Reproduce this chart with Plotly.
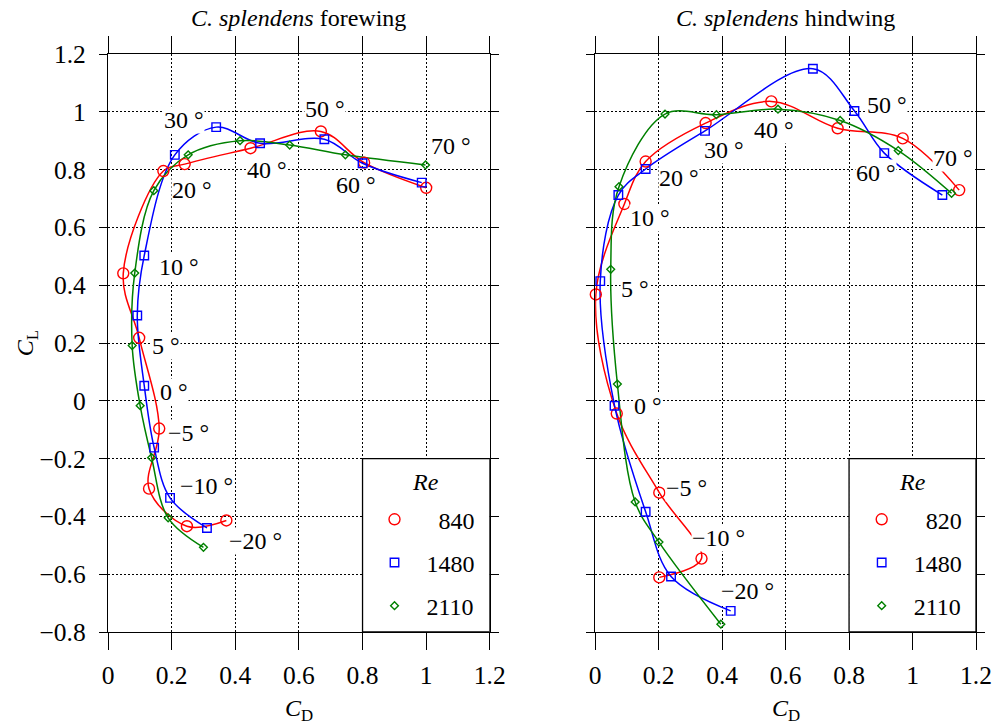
import plotly.graph_objects as go

# ---------------- data ----------------
angles = [-20, -10, -5, 0, 5, 10, 20, 30, 40, 50, 60, 70]

fore_re = ["840", "1480", "2110"]
hind_re = ["820", "1480", "2110"]

fore_840_cd = [0.372, 0.248, 0.129, 0.161, 0.098, 0.048, 0.174, 0.241, 0.448, 0.669, 0.805, 1.000]
fore_840_cl = [-0.414, -0.434, -0.304, -0.096, 0.218, 0.441, 0.795, 0.819, 0.874, 0.932, 0.824, 0.737]
fore_1480_cd = [0.311, 0.195, 0.145, 0.114, 0.092, 0.114, 0.210, 0.340, 0.478, 0.680, 0.800, 0.986]
fore_1480_cl = [-0.440, -0.336, -0.162, 0.052, 0.295, 0.503, 0.851, 0.947, 0.891, 0.905, 0.822, 0.755]
fore_2110_cd = [0.300, 0.189, 0.137, 0.101, 0.076, 0.084, 0.144, 0.252, 0.415, 0.571, 0.746, 0.998]
fore_2110_cl = [-0.507, -0.405, -0.197, -0.017, 0.191, 0.442, 0.727, 0.851, 0.900, 0.885, 0.851, 0.816]

hind_820_cd = [0.202, 0.335, 0.202, 0.068, 0.002, 0.092, 0.159, 0.348, 0.555, 0.764, 0.969, 1.147]
hind_820_cl = [-0.611, -0.546, -0.318, -0.044, 0.368, 0.681, 0.828, 0.961, 1.036, 0.943, 0.908, 0.729]
hind_1480_cd = [0.427, 0.239, 0.159, 0.061, 0.016, 0.073, 0.159, 0.346, 0.686, 0.817, 0.911, 1.094]
hind_1480_cl = [-0.727, -0.608, -0.384, -0.017, 0.414, 0.712, 0.802, 0.934, 1.149, 1.003, 0.857, 0.712]
hind_2110_cd = [0.396, 0.201, 0.126, 0.070, 0.049, 0.075, 0.220, 0.382, 0.576, 0.772, 0.955, 1.123]
hind_2110_cl = [-0.773, -0.489, -0.350, 0.058, 0.455, 0.741, 0.992, 0.990, 1.009, 0.970, 0.866, 0.718]

x_ticks = [0, 0.2, 0.4, 0.6, 0.8, 1.0, 1.2]
x_ticklabels = ["0", "0.2", "0.4", "0.6", "0.8", "1", "1.2"]
y_ticks = [-0.8, -0.6, -0.4, -0.2, 0, 0.2, 0.4, 0.6, 0.8, 1.0, 1.2]
y_ticklabels = ["\u22120.8", "\u22120.6", "\u22120.4", "\u22120.2", "0", "0.2", "0.4",
                "0.6", "0.8", "1", "1.2"]

# angle-label placement (layout, CD/CL coordinates for each angle)
fore_label_x = [0.464, 0.310, 0.254, 0.207, 0.183, 0.222, 0.265, 0.240, 0.500, 0.683, 0.779, 1.079]
fore_label_y = [-0.486, -0.295, -0.110, 0.031, 0.191, 0.463, 0.729, 0.972, 0.799, 1.009, 0.747, 0.880]
hind_label_x = [0.479, 0.390, 0.289, 0.167, 0.126, 0.172, 0.264, 0.407, 0.564, 0.918, 0.886, 1.128]
hind_label_y = [-0.657, -0.475, -0.301, -0.017, 0.388, 0.631, 0.770, 0.868, 0.9375, 1.024, 0.787, 0.839]

# ---------------- style ----------------
FONT = "Liberation Serif"
FS = 24
TFS = 25.5
W, H = 1004, 724
ML, MR, MT, MB = 108, 25.3, 54.3, 92.3
PW = W - ML - MR
PH = H - MT - MB
left_dom = [0, (491 - 108) / PW]
right_dom = [(596.7 - 108) / PW, 1]

colors = ["rgb(255,0,0)", "rgb(0,0,255)", "rgb(0,128,0)"]
symbols = ["circle-open", "square-open", "diamond-open"]
msizes = [11, 8.5, 6]


def py2paper(py):
    return (MT + PH - py) / PH


fig = go.Figure()

panels = [
    ("x", "y", "legend", fore_re,
     [(fore_840_cd, fore_840_cl), (fore_1480_cd, fore_1480_cl), (fore_2110_cd, fore_2110_cl)]),
    ("x2", "y2", "legend2", hind_re,
     [(hind_820_cd, hind_820_cl), (hind_1480_cd, hind_1480_cl), (hind_2110_cd, hind_2110_cl)]),
]

for xa, ya, leg, res, series in panels:
    for i, (cd, cl) in enumerate(series):
        fig.add_trace(go.Scatter(
            x=cd, y=cl, xaxis=xa, yaxis=ya, mode="lines",
            line=dict(color=colors[i], width=1.5, shape="spline", smoothing=1.0),
            showlegend=False, hoverinfo="skip"))
    for i, (cd, cl) in enumerate(series):
        name = res[i] if len(res[i]) == 4 else "\u2007" + res[i]
        fig.add_trace(go.Scatter(
            x=cd, y=cl, xaxis=xa, yaxis=ya, mode="markers",
            marker=dict(symbol=symbols[i], size=msizes[i], color=colors[i],
                        line=dict(width=1.4, color=colors[i])),
            cliponaxis=False, name=name, legend=leg,
            legendgroup=f"{leg}_{i}", showlegend=True))

axis_common = dict(
    ticks="outside", tickcolor="black", tickwidth=1.3,
    showline=True, linecolor="black", linewidth=1.3, mirror="ticks",
    showgrid=True, gridcolor="black", gridwidth=1, griddash="2px,2px",
    zeroline=False, tickfont=dict(family=FONT, size=TFS, color="black"),
)

fig.update_layout(
    width=W, height=H,
    margin=dict(l=ML, r=MR, t=MT, b=MB),
    paper_bgcolor="white", plot_bgcolor="white",
    font=dict(family=FONT, size=FS, color="black"),
    xaxis=dict(domain=left_dom, range=[0, 1.2], tickvals=x_ticks, ticktext=x_ticklabels,
               ticklen=17, anchor="y", ticklabelstandoff=3, **axis_common),
    yaxis=dict(domain=[0, 1], range=[-0.8, 1.2], tickvals=y_ticks, ticktext=y_ticklabels,
               ticklen=8, anchor="x", ticklabelstandoff=8, **axis_common),
    xaxis2=dict(domain=right_dom, range=[0, 1.2], tickvals=x_ticks, ticktext=x_ticklabels,
                ticklen=17, anchor="y2", ticklabelstandoff=3, **axis_common),
    yaxis2=dict(domain=[0, 1], range=[-0.8, 1.2], tickvals=y_ticks, ticktext=y_ticklabels,
                ticklen=8, anchor="x2", showticklabels=False, **axis_common),
    showlegend=True,
)

# legend boxes (white panels with black frame, between grid and traces)
for xa, ya in [("x", "y"), ("x2", "y2")]:
    fig.add_shape(type="rect", xref=xa, yref=ya, x0=0.8, x1=1.2, y0=-0.8, y1=-0.2,
                  fillcolor="white", line=dict(color="black", width=1.3), layer="between")

leg_common = dict(
    xanchor="left", yanchor="top", bgcolor="rgba(0,0,0,0)", borderwidth=0,
    font=dict(family=FONT, size=FS, color="black"),
    itemwidth=54, tracegroupgap=9, traceorder="grouped",
)
fig.update_layout(
    legend=dict(x=(363.3 - 108) / PW, y=py2paper(497), **leg_common),
    legend2=dict(x=(852 - 108) / PW, y=py2paper(497), **leg_common),
)

# "Re" headings of the legends
for dom_x in [(362 + 491) / 2, (850.7 + 978.7) / 2]:
    fig.add_annotation(x=(dom_x - 108) / PW, y=py2paper(482), xref="paper", yref="paper",
                       text="<i>Re</i>", showarrow=False, xanchor="center", yanchor="middle",
                       font=dict(family=FONT, size=FS, color="black"))


# angle labels
def fmt_angle(a):
    return (str(a).replace("-", "\u2212")) + " \u00b0"


for xa, ya, lx, ly in [("x", "y", fore_label_x, fore_label_y), ("x2", "y2", hind_label_x, hind_label_y)]:
    for a, px, py in zip(angles, lx, ly):
        fig.add_annotation(x=px, y=py, xref=xa, yref=ya, text=fmt_angle(a), showarrow=False,
                           bgcolor="white", borderpad=0, xanchor="center", yanchor="middle",
                           font=dict(family=FONT, size=FS, color="black"))

# titles and axis titles
titles = ["<i>C. splendens</i> forewing", "<i>C. splendens</i> hindwing"]
for dom, t in zip([left_dom, right_dom], titles):
    fig.add_annotation(x=(dom[0] + dom[1]) / 2, y=py2paper(18), xref="paper", yref="paper",
                       text=t, showarrow=False, xanchor="center", yanchor="middle",
                       font=dict(family=FONT, size=FS, color="black"))
    fig.add_annotation(x=(dom[0] + dom[1]) / 2, y=py2paper(710), xref="paper", yref="paper",
                       text="<i>C</i><sub>D</sub>", showarrow=False, xanchor="center", yanchor="middle",
                       font=dict(family=FONT, size=FS, color="black"))

fig.add_annotation(x=-(ML - 27) / PW, y=0.5, xref="paper", yref="paper",
                   text="<i>C</i><sub>L</sub>", showarrow=False, textangle=-90,
                   xanchor="center", yanchor="middle",
                   font=dict(family=FONT, size=FS, color="black"))

fig.write_html("out.html")
